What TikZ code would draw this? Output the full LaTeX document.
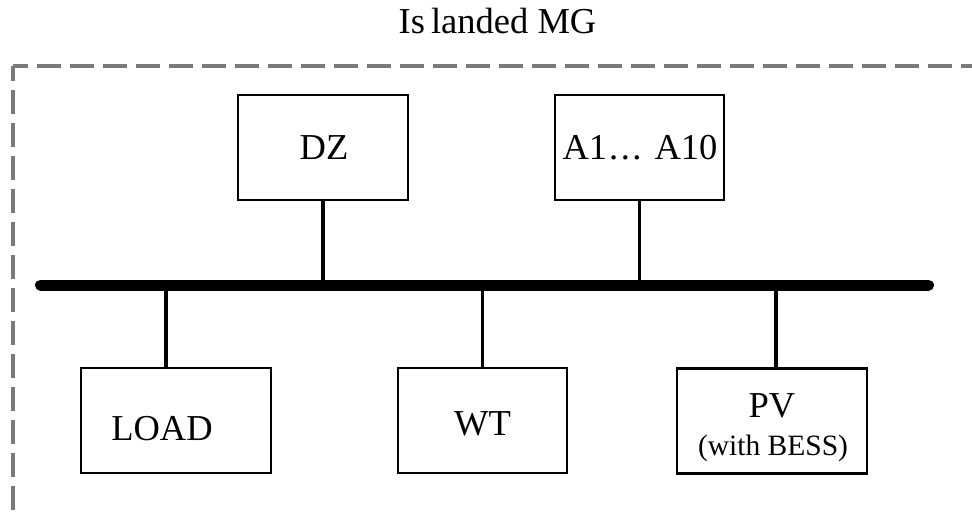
\documentclass[tikz,border=0pt]{standalone}
\usepackage{fontspec}
\setmainfont{Liberation Serif}
\begin{document}
\begin{tikzpicture}[x=1pt,y=-1pt,
  boxstyle/.style={draw=black,line width=2.7pt,minimum width=#1,minimum height=105pt,inner sep=0pt,fill=white},
  boxstyle/.default=170pt,
  wire/.style={draw=black,line width=3.2pt},
  busline/.style={draw=black,line width=11pt,line cap=round},
  frame/.style={draw=black!52,line width=3.5pt,dash pattern=on 24pt off 9pt,dash phase=9pt},
  lbl/.style={anchor=base,inner sep=0pt,font=\fontsize{36.5}{40}\selectfont},
  sublbl/.style={anchor=base,inner sep=0pt,font=\fontsize{29.5}{34}\selectfont}]
\useasboundingbox (0,0) rectangle (972,512);
\clip (0,0) rectangle (972,512);
% frame
\coordinate (fc) at (13,66);
\coordinate (fb) at (13,540);
\coordinate (fr) at (1000,66);
\draw[frame] (fc) -- (fb);
\draw[frame] (fc) -- (fr);
% title
\node[lbl] (title) at (497.5,33) {Is\,landed MG};
% bus
\coordinate (busL) at (40.5,285);
\coordinate (busR) at (928.5,285);
\draw[busline] (busL) -- (busR);
% boxes
\node[boxstyle=170pt] (DZ) at (323,147.5) {};
\node[boxstyle=169pt] (A) at (639.5,147.5) {};
\node[boxstyle=190pt] (LOAD) at (176,420.5) {};
\node[boxstyle=169pt] (WT) at (482.5,420.5) {};
\node[boxstyle=190pt] (PV) at (772,421) {};
% texts
\node[lbl] (tA) at (640,159) {A1\kern2pt.\kern2.5pt.\kern2.5pt.\kern13pt A10};
\node[lbl] (tDZ) at (324,159) {DZ};
\node[lbl] (tLOAD) at (162,440) {LOAD};
\node[lbl] (tWT) at (482.5,435) {WT};
\node[lbl] (tPV) at (772,417) {PV};
\node[sublbl] (tBESS) at (773,455) {(with BESS)};
% connectors
\draw[wire] (DZ.south) -- (DZ.south |- busL);
\draw[wire] (A.south) -- (A.south |- busL);
\draw[wire] ([xshift=-10pt]LOAD.north) -- ([xshift=-10pt]LOAD.north |- busL);
\draw[wire] (WT.north) -- (WT.north |- busL);
\draw[wire] ([xshift=4pt]PV.north) -- ([xshift=4pt]PV.north |- busL);
\end{tikzpicture}
\end{document}
